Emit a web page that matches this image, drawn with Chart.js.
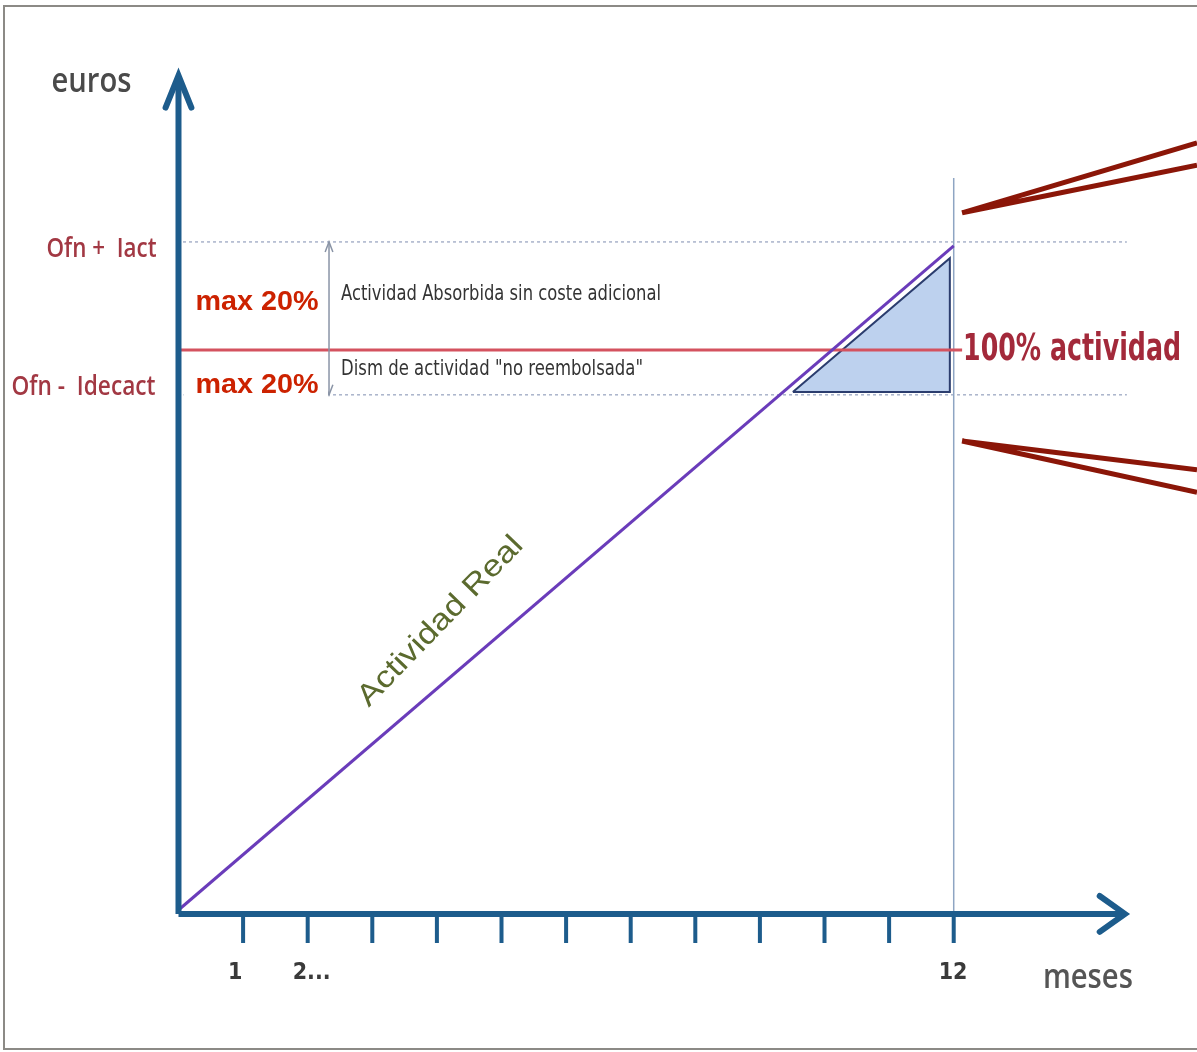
<!DOCTYPE html>
<html><head><meta charset="utf-8">
<script src="https://cdn.jsdelivr.net/npm/chart.js@4"></script>
<style>
html,body{margin:0;padding:0;background:#fff;overflow:hidden;}
#wrap{position:relative;width:1197px;height:1052px;overflow:hidden;}
#frame{position:absolute;left:3px;top:5px;width:1220px;height:1045px;border:2px solid #8c8a86;box-sizing:border-box;pointer-events:none;}
</style></head><body>
<div id="wrap"><canvas id="c"></canvas><div id="frame"></div></div>
<script>
// ---- data (months on x, activity units on y; 100 = 100% actividad) ----
const meses = [0, 12];
const actividadReal = [0, 118.6];
const nivelOfnMasIact = 119.3;
const nivelCien = 100;
const nivelOfnMenosIdecact = 92;
const tickMeses = [1,2,3,4,5,6,7,8,9,10,11,12];
const tickLabels = ['1','2...','','','','','','','','','','12'];
const trianguloX = [9.51, 11.94, 11.94, 9.51];
const trianguloY = [92.5, 92.5, 116.4, 92.5];
const rangoX = 2.33;
const calloutSupX = [15.766, 12.13, 15.766];
const calloutSupY = [137.0, 124.5, 133.0];
const calloutInfX = [15.766, 12.13, 15.766];
const calloutInfY = [74.6, 83.75, 78.6];
const ejeY = {x:[0,0], y:[-0.7,148]};
const ejeYFlecha = {x:[-0.2,0,0.2], y:[143.3,149,143.3]};
const ejeX = {x:[0,14.6], y:[-0.7,-0.7]};
const ejeXFlecha = {x:[14.26,14.65,14.26], y:[2.5,-0.7,-3.9]};
const tickLen = -5.9;
const lineaMes12 = {x:[12,12], y:[130.7,-0.7]};
const dottedRange = [0.07, 14.68];
const lineaCienRange = [0, 12.13];

const pts = (xs, ys) => xs.map((x,i)=>({x, y: ys[i]}));

const AXIS = '#1d5c8c';
const datasets = [
  {data: pts(trianguloX, trianguloY), borderColor:'#2b3d6e', borderWidth:2, backgroundColor:'#bdd1ee', fill:'shape', order:20},
  {data: pts(dottedRange, [nivelOfnMasIact,nivelOfnMasIact]), borderColor:'#a9b3ca', borderWidth:1.5, borderDash:[3,3], order:19},
  {data: pts(dottedRange, [nivelOfnMenosIdecact,nivelOfnMenosIdecact]), borderColor:'#a9b3ca', borderWidth:1.5, borderDash:[3,3], order:19},
  {data: pts(lineaMes12.x, lineaMes12.y), borderColor:'#8ea5c3', borderWidth:1.5, order:18},
  {data: pts(lineaCienRange, [nivelCien,nivelCien]), borderColor:'#d4525f', borderWidth:3, order:15},
  {data: pts(meses, actividadReal), borderColor:'#6a3cba', borderWidth:3, order:10},
  {data: pts([rangoX,rangoX],[nivelOfnMasIact,nivelOfnMenosIdecact]), borderColor:'#8a94a6', borderWidth:1.5, order:9},
  {data: pts([rangoX-0.06,rangoX,rangoX+0.06],[nivelOfnMasIact-1.8,nivelOfnMasIact,nivelOfnMasIact-1.8]), borderColor:'#8a94a6', borderWidth:1.5, order:9},
  {data: pts([rangoX-0.06,rangoX,rangoX+0.06],[nivelOfnMenosIdecact+1.8,nivelOfnMenosIdecact,nivelOfnMenosIdecact+1.8]), borderColor:'#8a94a6', borderWidth:1.5, order:9},
  {data: pts(calloutSupX, calloutSupY), borderColor:'#8b1608', borderWidth:5, borderJoinStyle:'miter', order:5},
  {data: pts(calloutInfX, calloutInfY), borderColor:'#8b1608', borderWidth:5, borderJoinStyle:'miter', order:5},
  {data: pts(ejeY.x, ejeY.y), borderColor:AXIS, borderWidth:6, order:1},
  {data: pts(ejeYFlecha.x, ejeYFlecha.y), borderColor:AXIS, borderWidth:6, borderJoinStyle:'miter', borderCapStyle:'round', order:1},
  {data: pts(ejeX.x, ejeX.y), borderColor:AXIS, borderWidth:6, order:1},
  {data: pts(ejeXFlecha.x, ejeXFlecha.y), borderColor:AXIS, borderWidth:6, borderJoinStyle:'miter', borderCapStyle:'round', order:1},
  ...tickMeses.map(m => ({data: pts([m,m],[ejeX.y[0], tickLen]), borderColor:AXIS, borderWidth:4, order:2}))
];
datasets.forEach(d => { d.pointRadius = 0; d.tension = 0; if (d.fill === undefined) d.fill = false; });

function txt(ctx, s, x, y, font, color, w, align, baseline) {
  ctx.save();
  ctx.font = font;
  const m = ctx.measureText(s).width;
  const sx = w ? w / m : 1;
  ctx.translate(x, y);
  ctx.scale(sx, 1);
  ctx.textAlign = align || 'left';
  ctx.textBaseline = baseline || 'middle';
  ctx.fillStyle = color;
  ctx.fillText(s, 0, 0);
  ctx.restore();
}

const NARROW = '"Liberation Sans Narrow","DejaVu Sans Condensed","Liberation Sans",sans-serif';
const SEMI = '"Open Sans","Liberation Sans",sans-serif';
const labels = {
  id: 'labels',
  afterDatasetsDraw(chart) {
    const ctx = chart.ctx;
    const X = v => chart.scales.x.getPixelForValue(v);
    const Y = v => chart.scales.y.getPixelForValue(v);
    const x0 = X(0);
    // white boxes behind "max 20%"
    ctx.save();
    ctx.fillStyle = '#ffffff';
    ctx.fillRect(x0 + 5, Y(nivelOfnMasIact) + 33, X(rangoX) - x0 - 6, 45);
    ctx.fillRect(x0 + 5, Y(nivelCien) + 10, X(rangoX) - x0 - 6, 42);
    ctx.restore();
    txt(ctx, 'max 20%', x0 + 17, Y(nivelOfnMasIact) + 68, 'bold 27px "Liberation Sans",Arial,sans-serif', '#cc2200', 123, 'left', 'alphabetic');
    txt(ctx, 'max 20%', x0 + 17, Y(nivelOfnMenosIdecact) - 2, 'bold 27px "Liberation Sans",Arial,sans-serif', '#cc2200', 123, 'left', 'alphabetic');

    txt(ctx, 'euros', x0 - 127, 92, '600 34px ' + SEMI, '#4a4a4a', 80, 'left', 'alphabetic');
    txt(ctx, 'Ofn +  Iact', x0 - 22, Y(nivelOfnMasIact) + 15, '600 27px ' + SEMI, '#a23843', 110, 'right', 'alphabetic');
    txt(ctx, 'Ofn -  Idecact', x0 - 23, Y(nivelOfnMenosIdecact), '600 27px ' + SEMI, '#a23843', 144, 'right', 'alphabetic');

    txt(ctx, 'Actividad Absorbida sin coste adicional', X(rangoX) + 12, Y(nivelOfnMasIact) + 58, '22px ' + NARROW, '#333333', 320, 'left', 'alphabetic');
    txt(ctx, 'Dism de actividad "no reembolsada"', X(rangoX) + 12, Y(nivelCien) + 25, '22px ' + NARROW, '#333333', 302, 'left', 'alphabetic');

    txt(ctx, '100% actividad', X(lineaCienRange[1]) + 1, Y(nivelCien) + 10, 'bold 37px ' + NARROW, '#a3293a', 218, 'left', 'alphabetic');

    txt(ctx, 'meses', X(14.65) - 82, Y(-12) + 11, '600 34px ' + SEMI, '#555555', 90, 'left', 'alphabetic');
    tickMeses.forEach((m, i) => {
      if (tickLabels[i]) txt(ctx, tickLabels[i], X(m) - 15, Y(tickLen) + 36, 'bold 23px ' + NARROW, '#3a3a3a', null, 'left', 'alphabetic');
    });

    // rotated label along the activity line
    ctx.save();
    ctx.translate(X(4.15), Y(50.5));
    ctx.rotate(-46 * Math.PI / 180);
    ctx.font = '30px "Liberation Sans",Arial,sans-serif';
    const w = ctx.measureText('Actividad Real').width;
    ctx.scale(224 / w, 1);
    ctx.textAlign = 'center';
    ctx.textBaseline = 'alphabetic';
    ctx.fillStyle = '#5b6a2e';
    ctx.fillText('Actividad Real', 0, 0);
    ctx.restore();
  }
};

new Chart(document.getElementById('c'), {
  type: 'line',
  data: { datasets },
  options: {
    responsive: true,
    maintainAspectRatio: false,
    animation: false,
    layout: { padding: 0 },
    plugins: { legend: { display: false }, tooltip: { enabled: false } },
    events: [],
    scales: {
      x: { type: 'linear', min: -2.763, max: 15.766, display: false },
      y: { type: 'linear', min: -25.357, max: 162.5, display: false }
    }
  },
  plugins: [labels]
});
</script>
</body></html>
